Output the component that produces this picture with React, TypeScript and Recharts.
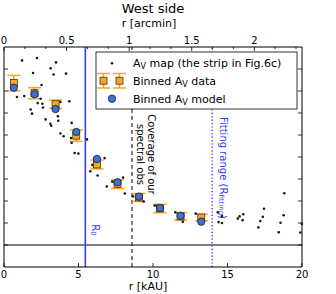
import { ComposedChart, Scatter, XAxis, YAxis, ReferenceLine, ErrorBar } from 'recharts'

// A_V map strip (small black dots), r in kAU
const mapR = [1.21, 2.21, 3.49, 3.13, 1.95, 3.33, 4.16, 2.52, 0.87, 1.36, 2.46, 2.26, 2.57, 2.62, 1.79, 3.78, 4.38, 1.88, 2.79, 3.62, 3.64, 3.11, 3.17, 4.54, 3.78, 4.0, 4.5, 4.54, 5.57, 4.74, 4.99, 6.75, 5.93, 5.79, 6.28, 7.27, 7.99, 6.9, 8.11, 8.66, 9.37, 10.12, 11.5, 11.85, 11.95, 12.0, 12.87, 14.35, 14.63, 14.4, 14.63, 15.69, 15.81, 16.06, 16.01, 17.45, 17.37, 17.2, 17.07, 18.81, 18.77, 18.56, 18.44, 19.99, 19.89]
const mapAv = [8.39, 8.5, 8.3, 8.03, 7.82, 7.75, 7.79, 7.27, 6.73, 6.77, 6.65, 6.45, 6.42, 6.25, 6.16, 6.5, 6.53, 5.97, 5.71, 5.85, 5.65, 5.51, 5.42, 5.55, 5.07, 4.94, 4.86, 4.65, 4.8, 4.18, 4.16, 3.95, 3.64, 3.35, 3.16, 2.88, 3.07, 2.66, 2.34, 2.21, 1.98, 1.79, 1.49, 1.38, 1.3, 1.06, 1.43, 1.49, 1.32, 1.04, 1.0, 1.2, 1.3, 1.4, 1.13, 1.65, 1.28, 1.09, 0.8, 2.35, 1.35, 1.01, 0.58, 0.96, 0.57]

// binned data / model
const binR = [0.66, 2.05, 3.46, 4.85, 6.24, 7.62, 9.06, 10.47, 11.85, 13.24]
const binAv = [7.36, 6.9, 6.4, 4.97, 3.66, 2.77, 2.16, 1.66, 1.3, 1.25]
const binErr = [0.35, 0.25, 0.19, 0.26, 0.2, 0.2, 0.18, 0.19, 0.17, 0.15]
const modelAv = [7.15, 6.85, 6.18, 5.14, 3.91, 2.85, 2.2, 1.68, 1.33, 1.06]

const kauTicks = [0, 5, 10, 15, 20]
const arcminLabels = ['0', '0.5', '1', '1.5', '2']
const yTicks = [0, 1, 2, 3, 4, 5, 6, 7, 8]

const R0 = 5.46
const COVERAGE = 8.59
const FIT_RANGE = 13.97
const KAU_PER_ARCMIN = 8.4

const mapData = mapR.map((x, i) => ({ x, y: mapAv[i] }))
const binData = binR.map((x, i) => ({ x, y: binAv[i], err: binErr[i] }))
const modelData = binR.map((x, i) => ({ x, y: modelAv[i] }))
const arcminTicks = Array.from({ length: 15 }, (_, i) => i / 6)

const W = 336
const H = 294
const PL = 4
const PR = 302
const PT = 47
const PB = 267
const FONT = 'DejaVu Sans, sans-serif'
const BLUE = '#2f3cff'
const ORANGE = '#ffa41c'
const MODEL = '#3d6fd6'

const TopTick = (p: any) => {
  const i = Math.round(p.payload.value * 6)
  const major = i % 3 === 0
  return (
    <g>
      <line x1={p.x} x2={p.x} y1={PT} y2={PT + (major ? 4 : 2)} stroke="#000" strokeWidth={0.8} />
      {major && (
        <text x={p.x} y={43.5} textAnchor="middle" fontSize={10} fontFamily={FONT} fill="#000">
          {arcminLabels[i / 3]}
        </text>
      )}
    </g>
  )
}

const BottomTick = (p: any) => (
  <g>
    <line x1={p.x} x2={p.x} y1={PB} y2={PB - 4} stroke="#000" strokeWidth={0.8} />
    <text x={p.x} y={278} textAnchor="middle" fontSize={10} fontFamily={FONT} fill="#000">
      {p.payload.value}
    </text>
  </g>
)

const LeftTick = (p: any) => <line x1={PL} x2={PL + 4} y1={p.y} y2={p.y} stroke="#000" strokeWidth={0.8} />
const RightTick = (p: any) => <line x1={PR} x2={PR - 4} y1={p.y} y2={p.y} stroke="#000" strokeWidth={0.8} />

const Dot = (p: any) => <circle cx={p.cx} cy={p.cy} r={1.3} fill="#1a1a1a" />
const Square = (p: any) => (
  <rect x={p.cx - 3.5} y={p.cy - 3.5} width={7} height={7} fill={ORANGE} stroke="#222" strokeWidth={0.7} />
)
const Circle = (p: any) => <circle cx={p.cx} cy={p.cy} r={3.7} fill={MODEL} stroke="#111" strokeWidth={0.7} />

const rot = (x: number, y: number) => `rotate(90, ${x}, ${y})`

const R0Label = (p: any) => {
  const x = p.viewBox.x + 10
  const y = 230
  return (
    <text x={x} y={y} transform={rot(x, y)} textAnchor="middle" dominantBaseline="central" fontSize={10} fontFamily={FONT} fill={BLUE}>
      R<tspan fontSize={7} dy={2}>0</tspan>
    </text>
  )
}

const CoverageLabel = (p: any) => {
  const x1 = p.viewBox.x + 20
  const x2 = p.viewBox.x + 8.5
  const y = 154.5
  return (
    <g fontSize={10} fontFamily={FONT} fill="#000">
      <text x={x1} y={y} transform={rot(x1, y)} textAnchor="middle" dominantBaseline="central">Coverage of our</text>
      <text x={x2} y={y} transform={rot(x2, y)} textAnchor="middle" dominantBaseline="central">spectral obs</text>
    </g>
  )
}

const FitLabel = (p: any) => {
  const x = p.viewBox.x + 11
  const y = 168
  return (
    <text x={x} y={y} transform={rot(x, y)} textAnchor="middle" dominantBaseline="central" fontSize={10} fontFamily={FONT} fill={BLUE}>
      Fitting range (R<tspan fontSize={7} dy={2}>fitting</tspan><tspan dy={-2}>)</tspan>
    </text>
  )
}

function LegendBox() {
  const lx = 96
  const ly = 52
  return (
    <g fontFamily={FONT} fontSize={11} fill="#000">
      <rect x={lx} y={ly} width={201} height={57} fill="#fff" stroke="#000" strokeWidth={0.8} />
      <circle cx={lx + 16} cy={ly + 11.3} r={1.3} fill="#1a1a1a" />
      <text x={lx + 37} y={ly + 15.3}>
        A<tspan fontSize={8} dy={2}>V</tspan><tspan dy={-2}> map (the strip in Fig.6c)</tspan>
      </text>
      {[7.5, 23.5].map((dx) => (
        <g key={dx}>
          <line x1={lx + dx} x2={lx + dx} y1={ly + 21.5} y2={ly + 36} stroke={ORANGE} strokeWidth={1.5} />
          <line x1={lx + dx - 6.5} x2={lx + dx + 6.5} y1={ly + 21.5} y2={ly + 21.5} stroke={ORANGE} strokeWidth={1.5} />
          <line x1={lx + dx - 6.5} x2={lx + dx + 6.5} y1={ly + 36} y2={ly + 36} stroke={ORANGE} strokeWidth={1.5} />
          <rect x={lx + dx - 3.5} y={ly + 25.2} width={7} height={7} fill={ORANGE} stroke="#222" strokeWidth={0.7} />
        </g>
      ))}
      <text x={lx + 37} y={ly + 32.7}>
        Binned A<tspan fontSize={8} dy={2}>V</tspan><tspan dy={-2}> data</tspan>
      </text>
      <circle cx={lx + 16} cy={ly + 46.7} r={3.7} fill={MODEL} stroke="#111" strokeWidth={0.7} />
      <text x={lx + 37} y={ly + 50.7}>
        Binned A<tspan fontSize={8} dy={2}>V</tspan><tspan dy={-2}> model</tspan>
      </text>
    </g>
  )
}

export default function App() {
  return (
    <div style={{ position: 'relative', width: W, height: H, background: '#fff' }}>
      <style>{'body{margin:0}'}</style>
      <ComposedChart width={W} height={H} margin={{ top: PT - 10, right: W - PR - 1, bottom: H - PB - 26, left: PL - 1 }}>
        <XAxis
          dataKey="x"
          type="number"
          domain={[0, 20]}
          ticks={kauTicks}
          interval={0}
          height={26}
          tickLine={false}
          axisLine={{ stroke: '#000' }}
          tick={<BottomTick />}
        />
        <XAxis
          xAxisId="top"
          dataKey="x"
          orientation="top"
          type="number"
          domain={[0, 20 / KAU_PER_ARCMIN]}
          allowDataOverflow
          ticks={arcminTicks}
          interval={0}
          height={10}
          tickLine={false}
          axisLine={{ stroke: '#000' }}
          tick={<TopTick />}
        />
        <YAxis
          dataKey="y"
          type="number"
          domain={[-1, 9]}
          allowDataOverflow
          ticks={yTicks}
          interval={0}
          width={1}
          tickLine={false}
          axisLine={{ stroke: '#000' }}
          tick={<LeftTick />}
        />
        <YAxis
          yAxisId="r"
          dataKey="y"
          orientation="right"
          type="number"
          domain={[-1, 9]}
          allowDataOverflow
          ticks={yTicks}
          interval={0}
          width={1}
          tickLine={false}
          axisLine={{ stroke: '#000' }}
          tick={<RightTick />}
        />
        <ReferenceLine y={0} stroke="#000" strokeWidth={1} />
        <ReferenceLine x={R0} stroke={BLUE} strokeWidth={1.6} label={{ content: R0Label }} />
        <ReferenceLine x={COVERAGE} stroke="#000" strokeWidth={1} strokeDasharray="4 3" label={{ content: CoverageLabel }} />
        <ReferenceLine x={FIT_RANGE} stroke={BLUE} strokeWidth={1.5} strokeDasharray="1.2 2.2" label={{ content: FitLabel }} />
        <Scatter data={mapData} shape={Dot} isAnimationActive={false} />
        <Scatter data={binData} shape={Square} isAnimationActive={false}>
          <ErrorBar dataKey="err" direction="y" width={6.5} stroke={ORANGE} strokeWidth={1.5} />
        </Scatter>
        <Scatter data={modelData} shape={Circle} isAnimationActive={false} />
        {/* keeps the secondary (top / right) axes attached to the chart */}
        <Scatter data={[]} xAxisId="top" yAxisId="r" isAnimationActive={false} />
      </ComposedChart>
      <svg width={W} height={H} style={{ position: 'absolute', left: 0, top: 0, pointerEvents: 'none' }}>
        <text x={153} y={12.5} textAnchor="middle" fontSize={13} fontFamily={FONT} fill="#000">West side</text>
        <text x={149} y={27} textAnchor="middle" fontSize={11} fontFamily={FONT} fill="#000">r [arcmin]</text>
        <text x={148} y={290} textAnchor="middle" fontSize={11} fontFamily={FONT} fill="#000">r [kAU]</text>
        <LegendBox />
      </svg>
    </div>
  )
}
